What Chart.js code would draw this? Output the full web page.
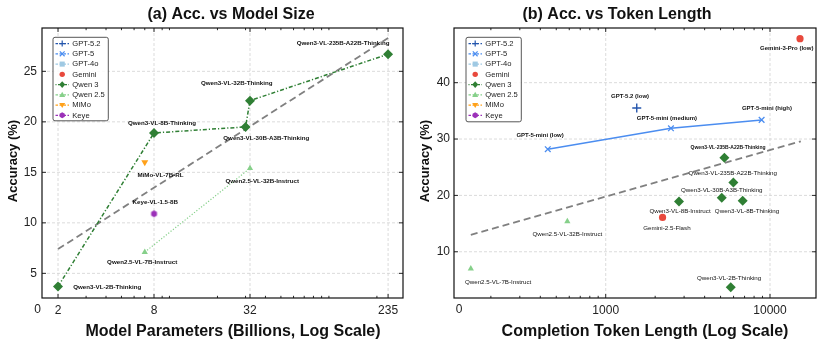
<!DOCTYPE html>
<html>
<head>
<meta charset="utf-8">
<script src="https://cdn.jsdelivr.net/npm/chart.js@4.4.1/dist/chart.umd.min.js"></script>
<style>
  html, body { margin: 0; padding: 0; background: #fff; }
  #wrap { position: relative; width: 825px; height: 346px; }
  .box { position: absolute; top: 0; height: 346px; }
  #boxA { left: 0; width: 412px; }
  #boxB { left: 412px; width: 413px; }
</style>
</head>
<body>
<div id="wrap">
  <div class="box" id="boxA"><canvas id="chartA"></canvas></div>
  <div class="box" id="boxB"><canvas id="chartB"></canvas></div>
</div>
<script>
// ---------- (a) accuracy vs model size (billions of params)
const sizeQwen3 = [2, 8, 30, 32, 235];
const accQwen3Size = [3.7, 18.9, 19.5, 22.1, 26.7];
const namesQwen3Size = ['Qwen3-VL-2B-Thinking', 'Qwen3-VL-8B-Thinking', 'Qwen3-VL-30B-A3B-Thinking', 'Qwen3-VL-32B-Thinking', 'Qwen3-VL-235B-A22B-Thinking'];
const sizeQwen25 = [7, 32];
const accQwen25Size = [7.1, 15.4];
const namesQwen25Size = ['Qwen2.5-VL-7B-Instruct', 'Qwen2.5-VL-32B-Instruct'];
const sizeMimo = [7];
const accMimo = [16.0];
const namesMimo = ['MiMo-VL-7B-RL'];
const sizeKeye = [8];
const accKeye = [10.9];
const namesKeye = ['Keye-VL-1.5-8B'];
const trendSizeX = [2, 235];
const trendSizeY = [7.4, 28.3];
const sizeTicks = [2, 8, 32, 235];
const accTicksA = [5, 10, 15, 20, 25];

// ---------- (b) accuracy vs completion token length
const tokGpt5 = [444, 2495, 8890];
const accGpt5 = [28.2, 31.9, 33.4];
const namesGpt5 = ['GPT-5-mini (low)', 'GPT-5-mini (medium)', 'GPT-5-mini (high)'];
const tokGpt52 = [1545];
const accGpt52 = [35.5];
const namesGpt52 = ['GPT-5.2 (low)'];
const tokGemini = [15230, 2218];
const accGemini = [47.8, 16.1];
const namesGemini = ['Gemini-3-Pro (low)', 'Gemini-2.5-Flash'];
const tokQwen3 = [5275, 5985, 5085, 2793, 6820, 5770];
const accQwen3Tok = [26.7, 22.3, 19.6, 18.9, 19.05, 3.7];
const namesQwen3Tok = ['Qwen3-VL-235B-A22B-Thinking', 'Qwen3-VL-235B-A22B-Thinking', 'Qwen3-VL-30B-A3B-Thinking', 'Qwen3-VL-8B-Instruct', 'Qwen3-VL-8B-Thinking', 'Qwen3-VL-2B-Thinking'];
const tokQwen25 = [584, 151];
const accQwen25Tok = [15.4, 7.0];
const namesQwen25Tok = ['Qwen2.5-VL-32B-Instruct', 'Qwen2.5-VL-7B-Instruct'];
const trendTokX = [151, 15400];
const trendTokY = [13.0, 29.6];
const tokTicks = [1000, 10000];
const accTicksB = [10, 20, 30, 40];

const legendNames = ['GPT-5.2', 'GPT-5', 'GPT-4o', 'Gemini', 'Qwen 3', 'Qwen 2.5', 'MiMo', 'Keye'];

// ---------- styles
const FONT = '"Liberation Sans", Arial, Helvetica, sans-serif';
const C = {
  gpt52: '#2456ad', gpt5: '#4b8df0', gpt4o: '#9fc9e3', gemini: '#e8493d',
  qwen3: '#2f7f34', qwen25: '#86d08a', mimo: '#ffa11a', keye: '#9b30b8', trend: '#808080'
};
// legend rows: colour, marker, handle dash (null = no line)
const legendStyle = [
  [C.gpt52, 'plus', [2.5, 1.5]],
  [C.gpt5, 'x', [2.5, 1.5]],
  [C.gpt4o, 'square', [2.5, 1.5]],
  [C.gemini, 'circle', null],
  [C.qwen3, 'diamond', [1, 1.5, 2.5, 1.5]],
  [C.qwen25, 'tri', [2.5, 1.5]],
  [C.mimo, 'tridown', [2.5, 1.5]],
  [C.keye, 'hex', [2.5, 1.5]]
];

function pts(xs, ys) { return xs.map((x, i) => ({ x, y: ys[i] })); }

function hexImage(r, color) {
  const s = Math.ceil(r * 2) + 2;
  const c = document.createElement('canvas');
  c.width = s; c.height = s;
  const g = c.getContext('2d');
  g.fillStyle = color;
  g.beginPath();
  for (let k = 0; k < 6; k++) {
    const t = -Math.PI / 2 + k * Math.PI / 3;
    const px = s / 2 + r * Math.cos(t), py = s / 2 + r * Math.sin(t);
    k ? g.lineTo(px, py) : g.moveTo(px, py);
  }
  g.closePath(); g.fill();
  return c;
}

function minorLog(min, max, majors) {
  const out = [];
  for (let e = Math.floor(Math.log10(min)); e <= Math.ceil(Math.log10(max)); e++) {
    for (let k = 1; k <= 9; k++) {
      const v = k * Math.pow(10, e);
      if (v > min && v < max && !majors.includes(v)) out.push(v);
    }
  }
  return out;
}

function seg(ctx, x1, y1, x2, y2) { ctx.beginPath(); ctx.moveTo(x1, y1); ctx.lineTo(x2, y2); ctx.stroke(); }

function marker(ctx, kind, x, y, r, color) {
  ctx.save();
  ctx.setLineDash([]);
  ctx.fillStyle = color; ctx.strokeStyle = color; ctx.lineWidth = 1.2;
  ctx.beginPath();
  if (kind === 'plus') { seg(ctx, x - r, y, x + r, y); seg(ctx, x, y - r, x, y + r); }
  else if (kind === 'x') { seg(ctx, x - r * .8, y - r * .8, x + r * .8, y + r * .8); seg(ctx, x - r * .8, y + r * .8, x + r * .8, y - r * .8); }
  else if (kind === 'square') { ctx.fillRect(x - r * .85, y - r * .85, r * 1.7, r * 1.7); }
  else if (kind === 'circle') { ctx.arc(x, y, r * .9, 0, Math.PI * 2); ctx.fill(); }
  else if (kind === 'diamond') { ctx.moveTo(x, y - r * 1.1); ctx.lineTo(x + r, y); ctx.lineTo(x, y + r * 1.1); ctx.lineTo(x - r, y); ctx.closePath(); ctx.fill(); }
  else if (kind === 'tri') { ctx.moveTo(x, y - r); ctx.lineTo(x + r, y + r * .7); ctx.lineTo(x - r, y + r * .7); ctx.closePath(); ctx.fill(); }
  else if (kind === 'tridown') { ctx.moveTo(x, y + r); ctx.lineTo(x + r, y - r * .7); ctx.lineTo(x - r, y - r * .7); ctx.closePath(); ctx.fill(); }
  else if (kind === 'hex') {
    for (let k = 0; k < 6; k++) {
      const t = -Math.PI / 2 + k * Math.PI / 3;
      k ? ctx.lineTo(x + r * Math.cos(t), y + r * Math.sin(t)) : ctx.moveTo(x + r * Math.cos(t), y + r * Math.sin(t));
    }
    ctx.closePath(); ctx.fill();
  }
  ctx.restore();
}

// matplotlib-ish paper frame: dashed grid, boxed axes, inward ticks, labels, legend, titles
const paperPlugin = {
  id: 'paper',
  beforeDatasetsDraw(chart, args, o) {
    const { ctx, chartArea: a, scales: { x, y } } = chart;
    ctx.save();
    ctx.strokeStyle = '#d2d2d2'; ctx.lineWidth = 0.8; ctx.setLineDash([3, 2]);
    o.xTicks.forEach(v => { const px = x.getPixelForValue(v); seg(ctx, px, a.top, px, a.bottom); });
    o.yTicks.forEach(v => { const py = y.getPixelForValue(v); seg(ctx, a.left, py, a.right, py); });
    ctx.restore();
  },
  afterDatasetsDraw(chart) {
    const ctx = chart.ctx;
    ctx.save();
    ctx.textAlign = 'center'; ctx.textBaseline = 'middle'; ctx.fillStyle = '#111';
    chart.data.datasets.forEach((ds, di) => {
      if (!ds.names) return;
      const meta = chart.getDatasetMeta(di);
      ds.names.forEach((txt, i) => {
        const el = meta.data[i];
        const [dx, dy, font] = ds.noteAt[i];
        ctx.font = font;
        ctx.fillText(txt, el.x + dx, el.y + dy);
      });
    });
    ctx.restore();
  },
  afterDraw(chart, args, o) {
    const { ctx, chartArea: a, scales: { x, y } } = chart;
    ctx.save();
    // frame
    ctx.strokeStyle = '#111'; ctx.lineWidth = 1.2;
    ctx.strokeRect(a.left, a.top, a.right - a.left, a.bottom - a.top);
    ctx.lineWidth = 0.9;
    o.xTicks.forEach(v => {
      const px = x.getPixelForValue(v);
      seg(ctx, px, a.bottom, px, a.bottom - 4); seg(ctx, px, a.top, px, a.top + 4);
    });
    minorLog(x.min, x.max, o.xTicks).forEach(v => {
      const px = x.getPixelForValue(v);
      seg(ctx, px, a.bottom, px, a.bottom - 2.2); seg(ctx, px, a.top, px, a.top + 2.2);
    });
    o.yTicks.forEach(v => {
      const py = y.getPixelForValue(v);
      seg(ctx, a.left, py, a.left + 4, py); seg(ctx, a.right, py, a.right - 4, py);
    });

    // legend
    const L = o.legend;
    ctx.fillStyle = 'rgba(255,255,255,0.85)'; ctx.strokeStyle = '#444'; ctx.lineWidth = 0.9;
    ctx.beginPath(); ctx.roundRect(L.x, L.y, L.w, L.h, 2); ctx.fill(); ctx.stroke();
    ctx.font = '7.6px ' + FONT; ctx.textAlign = 'left'; ctx.textBaseline = 'middle';
    legendNames.forEach((name, i) => {
      const [col, kind, dash] = legendStyle[i];
      const ry = L.y + 6.3 + i * 10.25;
      if (dash) {
        ctx.strokeStyle = col; ctx.lineWidth = 1.1; ctx.setLineDash(dash);
        seg(ctx, L.x + 2.5, ry, L.x + 16, ry);
        ctx.setLineDash([]);
      }
      marker(ctx, kind, L.x + 9.2, ry, 3, col);
      ctx.fillStyle = '#222';
      ctx.fillText(name, L.x + 19.3, ry + 0.3);
    });

    // titles
    ctx.fillStyle = '#111';
    ctx.textAlign = 'center'; ctx.textBaseline = 'alphabetic';
    ctx.font = 'bold 16px ' + FONT;
    ctx.fillText(o.title, o.titleX, 18.5);
    ctx.fillText(o.xTitle, o.xTitleX, 335.5);
    ctx.save();
    ctx.translate(16.8, 161); ctx.rotate(-Math.PI / 2);
    ctx.font = 'bold 13px ' + FONT;
    ctx.fillText('Accuracy (%)', 0, 0);
    ctx.restore();
    ctx.font = '12px ' + FONT; ctx.fillStyle = '#222';
    ctx.textBaseline = 'alphabetic';
    ctx.fillText('0', o.zeroX, 313);
    ctx.restore();
  }
};

function axes(xmin, xmax, xt, ymin, ymax, yt, ypad) {
  const tickFont = { family: FONT, size: 12 };
  return {
    x: {
      type: 'logarithmic', position: 'bottom', min: xmin, max: xmax,
      grid: { display: false, drawTicks: false }, border: { display: false },
      afterBuildTicks: s => { s.ticks = xt.map(v => ({ value: v })); },
      afterFit: s => { s.height = 48; },
      ticks: { font: tickFont, color: '#222', padding: 5, autoSkip: false, maxRotation: 0, callback: v => String(v) }
    },
    y: {
      type: 'linear', position: 'left', min: ymin, max: ymax,
      grid: { display: false, drawTicks: false }, border: { display: false },
      afterBuildTicks: s => { s.ticks = yt.map(v => ({ value: v })); },
      afterFit: s => { s.width = 42; },
      ticks: { font: tickFont, color: '#222', padding: ypad, callback: v => String(v) }
    }
  };
}

const common = {
  responsive: true, maintainAspectRatio: false, animation: false,
  plugins: { legend: { display: false }, tooltip: { enabled: false } },
  events: []
};

const B6 = 'bold 6.2px ' + FONT;
const R6 = '6.2px ' + FONT;
const B6b = 'bold 6px ' + FONT;
const B5 = 'bold 5px ' + FONT;

// ---------- chart (a)
new Chart(document.getElementById('chartA'), {
  type: 'scatter',
  data: {
    datasets: [
      { data: pts(sizeMimo, accMimo), names: namesMimo, noteAt: [[15.7, 12.7, B6]],
        pointStyle: 'triangle', rotation: 180, pointRadius: 4, backgroundColor: C.mimo, borderColor: C.mimo, borderWidth: 0 },
      { data: pts(sizeKeye, accKeye), names: namesKeye, noteAt: [[1.3, -11, B6]],
        pointStyle: hexImage(3.4, C.keye), pointRadius: 4 },
      { data: pts(sizeQwen3, accQwen3Size), names: namesQwen3Size,
        noteAt: [[49.2, 0.5, B6], [8, -9.7, B6], [20.7, 11.7, B6], [-13.3, -17.7, B6], [-45, -10.5, B6]],
        showLine: true, borderColor: C.qwen3, borderWidth: 1.5, borderDash: [4, 2, 1.2, 2],
        pointStyle: 'rectRot', pointRadius: 5, backgroundColor: C.qwen3, pointBorderColor: C.qwen3, pointBorderWidth: 0 },
      { data: pts(sizeQwen25, accQwen25Size), names: namesQwen25Size, noteAt: [[-2.6, 10.6, B6], [12.2, 12.7, B6]],
        showLine: true, borderColor: C.qwen25, borderWidth: 1.2, borderDash: [1.2, 1.8],
        pointStyle: 'triangle', pointRadius: 3.6, backgroundColor: C.qwen25, pointBorderColor: C.qwen25, pointBorderWidth: 0 },
      { data: pts(trendSizeX, trendSizeY), showLine: true, borderColor: C.trend, borderWidth: 1.8,
        borderDash: [7, 4], pointRadius: 0 }
    ]
  },
  options: {
    ...common,
    layout: { padding: { top: 28, right: 9, left: 0, bottom: 0 } },
    scales: axes(1.587, 291.5, sizeTicks, 2.56, 29.29, accTicksA, 5),
    plugins: {
      ...common.plugins,
      paper: { xTicks: sizeTicks, yTicks: accTicksA, legend: { x: 53, y: 37.3, w: 55.3, h: 83.5 },
        title: '(a) Acc. vs Model Size', titleX: 231, xTitle: 'Model Parameters (Billions, Log Scale)', xTitleX: 233, zeroX: 37.7 }
    }
  },
  plugins: [paperPlugin]
});

// ---------- chart (b)
new Chart(document.getElementById('chartB'), {
  type: 'scatter',
  data: {
    datasets: [
      { data: pts(tokGpt52, accGpt52), names: namesGpt52, noteAt: [[-6.7, -11.7, B6b]],
        pointStyle: 'cross', pointRadius: 4.5, borderColor: C.gpt52, borderWidth: 1.4 },
      { data: pts(tokGpt5, accGpt5), names: namesGpt5, noteAt: [[-7.7, -14.3, B6b], [-4, -10, B6b], [5.3, -11.7, B6b]],
        showLine: true, borderColor: C.gpt5, borderWidth: 1.5,
        pointStyle: 'crossRot', pointRadius: 4, pointBorderColor: C.gpt5, pointBorderWidth: 1.3 },
      { data: pts(tokGemini, accGemini), names: namesGemini, noteAt: [[-13.3, 10, B6b], [4.3, 11.3, R6]],
        pointStyle: 'circle', pointRadius: 3.6, backgroundColor: C.gemini, borderColor: C.gemini, borderWidth: 0 },
      { data: pts(tokQwen3, accQwen3Tok), names: namesQwen3Tok,
        noteAt: [[3.7, -10, B5], [-0.6, -9, R6], [0, -7.3, R6], [1, 9.7, R6], [4.3, 10.3, R6], [-1.7, -9.3, R6]],
        pointStyle: 'rectRot', pointRadius: 5, backgroundColor: C.qwen3, borderColor: C.qwen3, borderWidth: 0 },
      { data: pts(tokQwen25, accQwen25Tok), names: namesQwen25Tok, noteAt: [[0, 13, R6], [27.3, 13.3, R6]],
        pointStyle: 'triangle', pointRadius: 3.6, backgroundColor: C.qwen25, borderColor: C.qwen25, borderWidth: 0 },
      { data: pts(trendTokX, trendTokY), showLine: true, borderColor: C.trend, borderWidth: 1.8,
        borderDash: [7, 4], pointRadius: 0 }
    ]
  },
  options: {
    ...common,
    layout: { padding: { top: 28, right: 9, left: 0, bottom: 0 } },
    scales: Object.assign(axes(119.3, 19050, tokTicks, 1.8, 49.7, accTicksB, 4), {}),
    plugins: {
      ...common.plugins,
      paper: { xTicks: tokTicks, yTicks: accTicksB, legend: { x: 54, y: 37.3, w: 55.3, h: 84.5 },
        title: '(b) Acc. vs Token Length', titleX: 205, xTitle: 'Completion Token Length (Log Scale)', xTitleX: 233, zeroX: 47 }
    }
  },
  plugins: [paperPlugin]
});
</script>
</body>
</html>
